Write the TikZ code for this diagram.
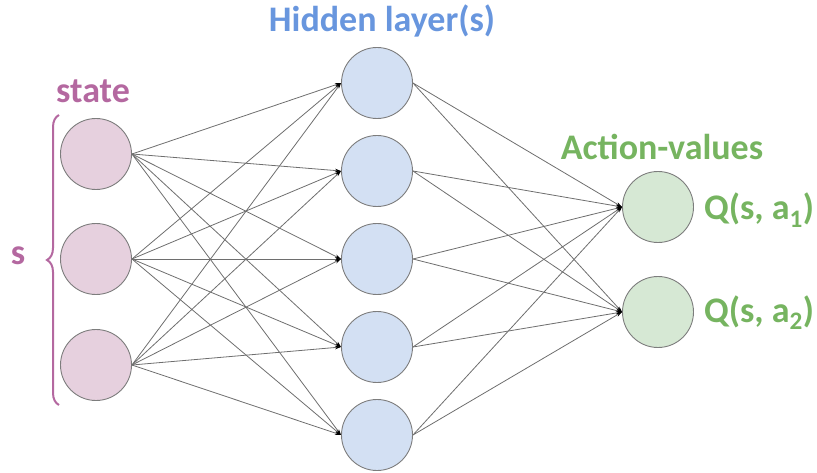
\documentclass[tikz,border=0pt]{standalone}
\usepackage{fontspec}
\setmainfont{Carlito}
\usetikzlibrary{arrows.meta,decorations.pathreplacing}
\definecolor{inpfill}{RGB}{230,208,222}
\definecolor{hidfill}{RGB}{211,224,243}
\definecolor{outfill}{RGB}{214,232,212}
\definecolor{nodeline}{RGB}{125,125,125}
\definecolor{purp}{RGB}{180,104,160}
\definecolor{blu}{RGB}{104,150,222}
\definecolor{grn}{RGB}{118,180,96}
\definecolor{edgecol}{RGB}{110,110,110}
\tikzset{
  neuron/.style={circle,draw=nodeline,line width=0.9pt,minimum size=71pt,inner sep=0pt},
  inp/.style={neuron,fill=inpfill},
  hid/.style={neuron,fill=hidfill},
  outn/.style={neuron,fill=outfill},
  conn/.style={draw=edgecol,line width=0.8pt,-{Stealth[length=6pt,width=3.5pt,black]}},
  lbl/.style={font=\fontsize{36}{40}\selectfont\bfseries,inner sep=0pt,anchor=base}
}
\begin{document}
\begin{tikzpicture}[x=1pt,y=-1pt]
\useasboundingbox (0,0) rectangle (817,473);
\node[inp] (i1) at (96,154) {};
\node[inp] (i2) at (96,259) {};
\node[inp] (i3) at (96,365) {};
\node[hid] (h1) at (377,83) {};
\node[hid] (h2) at (377,171) {};
\node[hid] (h3) at (377,259) {};
\node[hid] (h4) at (377,347) {};
\node[hid] (h5) at (377,435) {};
\node[outn] (o1) at (658,207) {};
\node[outn] (o2) at (658,312) {};
\foreach \i in {1,2,3}{\foreach \h in {1,...,5}{\draw[conn] (i\i.east) -- (h\h.west);}}
\foreach \h in {1,...,5}{\foreach \o in {1,2}{\draw[conn] (h\h.east) -- (o\o.west);}}
\node[lbl,text=purp] (tstate) at (93,103) {state};
\node[lbl,text=purp] (ts) at (18,265) {s};
\coordinate (bb) at (59,405);
\coordinate (bt) at (59,115);
\draw[purp,line width=2pt,decorate,decoration={brace,amplitude=12pt,aspect=0.5}] (bb) -- (bt);
\node[lbl,text=blu] (thid) at (382,32) {Hidden layer(s)};
\node[lbl,text=grn] (tact) at (662,160) {Action-values};
\node[lbl,text=grn,anchor=base west] (q1) at (704,220) {Q(s, a\textsubscript{1})};
\node[lbl,text=grn,anchor=base west] (q2) at (704,322) {Q(s, a\textsubscript{2})};
\end{tikzpicture}
\end{document}
